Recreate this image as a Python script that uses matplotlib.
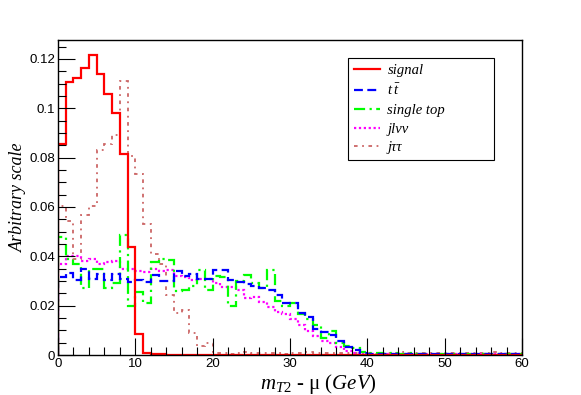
import numpy as np
import matplotlib
matplotlib.use("Agg")
import matplotlib.pyplot as plt
from matplotlib.lines import Line2D
from matplotlib.ticker import MultipleLocator, FuncFormatter

plt.rcParams['mathtext.fontset'] = 'custom'
plt.rcParams['mathtext.it'] = 'Liberation Serif:italic'
plt.rcParams['mathtext.rm'] = 'Liberation Serif'

# 1 GeV bins from 0 to 60
bin_edges = np.arange(0, 61, 1)

signal = [0.0857, 0.1108, 0.1122, 0.1165, 0.1216, 0.1140, 0.1057, 0.0982, 0.0815, 0.0438,
          0.0085, 0.0007, 0.0006, 0.0004] + [0.0] * 46

ttbar = [0.0317, 0.0333, 0.0303, 0.0347, 0.0307, 0.0327, 0.0303, 0.0330, 0.0310, 0.0296,
         0.0303, 0.0296, 0.0323, 0.0300, 0.0300, 0.0340, 0.0319, 0.0330, 0.0310, 0.0310,
         0.0346, 0.0346, 0.0303, 0.0296, 0.0287, 0.0279, 0.0273, 0.0263, 0.0245, 0.0210,
         0.0210, 0.0170, 0.0155, 0.0105, 0.0095, 0.0082, 0.0058, 0.0034, 0.0020, 0.0010,
         0.0005, 0.0004, 0.0006, 0.0003, 0.0005, 0.0004, 0.0003, 0.0005, 0.0004, 0.0003,
         0.0004, 0.0003, 0.0005, 0.0003, 0.0004, 0.0003, 0.0004, 0.0003, 0.0004, 0.0003]

single_top = [0.0478, 0.0390, 0.0370, 0.0270, 0.0350, 0.0350, 0.0270, 0.0290, 0.0487, 0.0200,
              0.0256, 0.0210, 0.0377, 0.0390, 0.0387, 0.0260, 0.0265, 0.0280, 0.0343, 0.0265,
              0.0320, 0.0316, 0.0200, 0.0300, 0.0325, 0.0290, 0.0270, 0.0343, 0.0220, 0.0200,
              0.0210, 0.0168, 0.0145, 0.0121, 0.0070, 0.0098, 0.0050, 0.0035, 0.0030, 0.0012,
              0.0008, 0.0010, 0.0006, 0.0009, 0.0005, 0.0007, 0.0004, 0.0006, 0.0005, 0.0004,
              0.0006, 0.0004, 0.0005, 0.0004, 0.0005, 0.0003, 0.0005, 0.0004, 0.0003, 0.0004]

jlvv = [0.0370, 0.0400, 0.0400, 0.0380, 0.0390, 0.0370, 0.0375, 0.0380, 0.0350, 0.0350,
        0.0340, 0.0335, 0.0350, 0.0340, 0.0345, 0.0320, 0.0316, 0.0303, 0.0310, 0.0310,
        0.0293, 0.0276, 0.0275, 0.0263, 0.0230, 0.0236, 0.0215, 0.0195, 0.0175, 0.0165,
        0.0144, 0.0121, 0.0098, 0.0077, 0.0057, 0.0050, 0.0031, 0.0016, 0.0010, 0.0006,
        0.0005, 0.0004, 0.0005, 0.0003, 0.0004, 0.0003, 0.0004, 0.0003, 0.0004, 0.0003,
        0.0003, 0.0004, 0.0003, 0.0003, 0.0004, 0.0003, 0.0003, 0.0004, 0.0003, 0.0003]

jtautau = [0.0606, 0.0545, 0.0390, 0.0566, 0.0606, 0.0832, 0.0855, 0.0893, 0.1110, 0.0808,
           0.0734, 0.0533, 0.0410, 0.0370, 0.0242, 0.0171, 0.0182, 0.0090, 0.0035, 0.0050,
           0.0008, 0.0010, 0.0006, 0.0009, 0.0011, 0.0007, 0.0009, 0.0008, 0.0010, 0.0006,
           0.0009, 0.0008, 0.0011, 0.0007, 0.0009, 0.0008, 0.0010, 0.0007, 0.0009, 0.0008,
           0.0010, 0.0006, 0.0009, 0.0008, 0.0011, 0.0007, 0.0009, 0.0008, 0.0010, 0.0007,
           0.0009, 0.0008, 0.0010, 0.0007, 0.0009, 0.0008, 0.0011, 0.0007, 0.0009, 0.0008]

labels = ['signal', r'$t\;\bar{t}$', 'single top', 'jlνν', 'jττ']
colors = ['#ff0000', '#0000ff', '#00ff00', '#ff00ff', '#cc6666']
styles = ['-', (0, (4, 2)), (0, (5, 2, 1, 2)), (0, (1, 1.2)), (0, (2, 2.5, 1, 2.5))]
widths = [1.6, 1.6, 1.6, 1.6, 1.3]
series = [signal, ttbar, single_top, jlvv, jtautau]

fig = plt.figure(figsize=(5.81, 3.95), dpi=100)
ax = fig.add_axes([58 / 581, 1 - 355 / 395, 464 / 581, 315 / 395])

# draw backgrounds first, signal on top
for vals, col, ls, lw in list(zip(series, colors, styles, widths))[::-1]:
    ax.stairs(vals, bin_edges, color=col, linestyle=ls, linewidth=lw, baseline=0)

ax.set_xlim(0, 60)
ax.set_ylim(0, 0.1277)

ax.xaxis.set_major_locator(MultipleLocator(10))
ax.xaxis.set_minor_locator(MultipleLocator(2))
ax.yaxis.set_major_locator(MultipleLocator(0.02))
ax.yaxis.set_minor_locator(MultipleLocator(0.005))
ax.yaxis.set_major_formatter(FuncFormatter(lambda v, p: '%g' % round(v, 3)))
ax.tick_params(which='both', direction='in', top=False, right=False, labelsize=9.5, pad=2)
ax.tick_params(which='major', length=12, width=0.8)
ax.tick_params(which='minor', length=6, width=0.8)
for lab in ax.get_xticklabels() + ax.get_yticklabels():
    lab.set_family('Liberation Sans')
for sp in ax.spines.values():
    sp.set_linewidth(1.0)

fig.text(318 / 581, 1 - 384 / 395, r'$m_{T2}$ - μ $(GeV)$', ha='center', va='center',
         family='Liberation Serif', fontsize=15)
fig.text(18 / 581, 1 - 197 / 395, 'Arbitrary scale', ha='center', va='center', rotation=90,
         family='Liberation Serif', style='italic', fontsize=13)

handles = [Line2D([], [], color=c, linestyle=s, linewidth=w)
           for c, s, w in zip(colors, styles, widths)]
ax.legend(handles, labels, loc='upper left',
          bbox_to_anchor=(348 / 581, 1 - 157 / 395, 146 / 581, 99 / 395),
          bbox_transform=fig.transFigure, mode='expand', frameon=True, fancybox=False,
          edgecolor='black', framealpha=1, borderaxespad=0, handlelength=1.8,
          handletextpad=0.5, labelspacing=0.38, borderpad=0.4,
          prop={'family': 'Liberation Serif', 'style': 'italic', 'size': 10.5})
ax.get_legend().get_frame().set_linewidth(0.8)

fig.savefig('out.png', dpi=100)
